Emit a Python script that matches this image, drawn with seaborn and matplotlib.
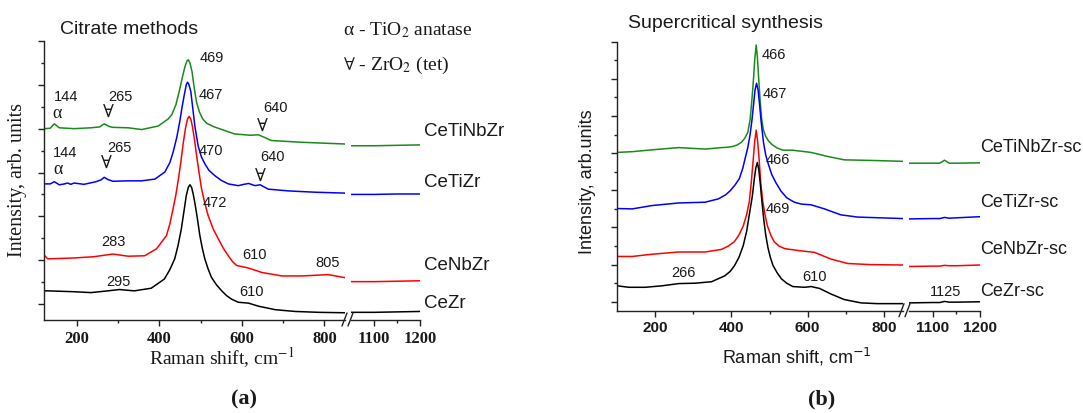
import matplotlib
matplotlib.use("Agg")
import matplotlib.pyplot as plt
import seaborn as sns
import pandas as pd
from matplotlib.lines import Line2D
from matplotlib.ticker import FixedLocator, MultipleLocator

# ---------------- data ----------------
names_a = ["CeTiNbZr", "CeTiZr", "CeNbZr", "CeZr"]
names_b = ["CeTiNbZr-sc", "CeTiZr-sc", "CeNbZr-sc", "CeZr-sc"]
colors = ["#1a8a1a", "#0000ff", "#ff0000", "#000000"]

# (a) Citrate methods
a_x_cetinbzr = [122, 135, 145, 157, 193, 234, 255, 266, 278, 287, 324, 357, 397, 421, 430, 440, 448, 455, 462, 467,
                470, 474, 479, 484, 490, 497, 505, 515, 533, 582, 620, 640, 655, 671, 744, 850,
                1050, 1100, 1150, 1200]
a_y_cetinbzr = [4.00, 4.01, 4.11, 4.02, 4.00, 4.02, 4.04, 4.11, 4.05, 4.03, 4.02, 3.98, 4.06, 4.22, 4.32, 4.55,
                4.85, 5.15, 5.42, 5.55, 5.57, 5.50, 5.30, 4.95, 4.60, 4.38, 4.22, 4.12, 4.04, 3.88, 3.85, 3.86,
                3.80, 3.73, 3.69, 3.65, 3.61, 3.61, 3.62, 3.63]

a_x_cetizr = [122, 135, 145, 157, 170, 177, 185, 193, 217, 246, 258, 266, 275, 287, 324, 357, 389, 413, 425, 433,
              442, 449, 455, 460, 465, 468, 471, 476, 481, 486, 494, 502, 510, 520, 534, 550, 567, 591, 605, 616,
              632, 644, 664, 713, 778, 850, 1050, 1100, 1150, 1200]
a_y_cetizr = [2.74, 2.74, 2.79, 2.72, 2.74, 2.76, 2.73, 2.76, 2.73, 2.79, 2.83, 2.89, 2.84, 2.80, 2.81, 2.81, 2.85,
              3.01, 3.22, 3.46, 3.80, 4.15, 4.50, 4.76, 5.00, 5.06, 5.02, 4.85, 4.45, 4.05, 3.60, 3.35, 3.20, 3.05,
              2.93, 2.82, 2.74, 2.70, 2.73, 2.75, 2.70, 2.72, 2.62, 2.58, 2.55, 2.53, 2.50, 2.50, 2.51, 2.51]

a_x_cenbzr = [122, 129, 193, 242, 287, 324, 364, 393, 417, 425, 433, 440, 446, 452, 458, 463, 468, 472, 476, 480,
              485, 490, 496, 502, 510, 518, 530, 543, 555, 567, 577, 587, 616, 648, 697, 745, 810, 850,
              1050, 1100, 1150, 1200]
a_y_cenbzr = [1.10, 1.03, 1.05, 1.08, 1.14, 1.09, 1.10, 1.26, 1.56, 1.82, 2.17, 2.50, 2.85, 3.25, 3.69, 4.00, 4.22,
              4.28, 4.22, 4.05, 3.75, 3.39, 3.00, 2.63, 2.30, 2.02, 1.72, 1.48, 1.27, 1.10, 0.97, 0.88, 0.82, 0.72,
              0.64, 0.64, 0.67, 0.60, 0.51, 0.51, 0.52, 0.53]

a_x_cezr = [122, 129, 193, 234, 275, 303, 339, 380, 412, 425, 437, 445, 453, 460, 465, 470, 474, 478, 482, 486,
            492, 498, 504, 510, 518, 526, 538, 551, 563, 575, 591, 616, 640, 681, 729, 786, 850,
            1050, 1100, 1150, 1200]
a_y_cezr = [0.30, 0.30, 0.28, 0.26, 0.30, 0.33, 0.30, 0.36, 0.57, 0.78, 1.03, 1.33, 1.71, 2.15, 2.47, 2.66, 2.72,
            2.66, 2.50, 2.30, 1.95, 1.56, 1.27, 1.03, 0.80, 0.61, 0.44, 0.30, 0.19, 0.11, 0.04, 0.02, -0.05, -0.13,
            -0.17, -0.19, -0.20, -0.19, -0.19, -0.18, -0.17]

# (b) Supercritical synthesis
b_x_cetinbzr = [100, 140, 192, 262, 331, 374, 390, 403, 415, 426, 435, 443, 449, 454, 458, 461, 465, 468, 471, 475,
                479, 484, 490, 498, 508, 520, 535, 560, 609, 653, 696, 783, 850,
                1050, 1100, 1115, 1125, 1135, 1150, 1200]
b_y_cetinbzr = [4.02, 4.04, 4.09, 4.15, 4.11, 4.15, 4.16, 4.18, 4.22, 4.29, 4.40, 4.56, 4.90, 5.46, 6.00, 6.50,
                6.91, 6.60, 6.10, 5.46, 4.95, 4.62, 4.45, 4.32, 4.22, 4.14, 4.08, 4.08, 4.02, 3.91, 3.82, 3.80,
                3.78, 3.73, 3.73, 3.73, 3.81, 3.73, 3.73, 3.74]

b_x_cetizr = [100, 140, 192, 262, 331, 366, 385, 397, 410, 421, 430, 437, 443, 449, 454, 458, 462, 466, 470, 474,
              478, 484, 490, 497, 506, 517, 530, 545, 565, 583, 609, 644, 687, 731, 850,
              1050, 1100, 1115, 1125, 1135, 1150, 1200]
b_y_cetizr = [2.51, 2.50, 2.59, 2.66, 2.68, 2.77, 2.88, 2.99, 3.15, 3.32, 3.60, 3.90, 4.15, 4.50, 4.90, 5.30, 5.70,
              5.88, 5.70, 5.30, 4.85, 4.30, 3.95, 3.70, 3.42, 3.20, 2.98, 2.80, 2.68, 2.63, 2.61, 2.50, 2.34, 2.28,
              2.24, 2.23, 2.24, 2.24, 2.27, 2.25, 2.26, 2.29]

b_x_cenbzr = [100, 140, 192, 262, 331, 374, 392, 408, 420, 431, 440, 447, 452, 457, 461, 465, 469, 473, 477, 482,
              488, 494, 503, 512, 525, 540, 583, 618, 661, 705, 766, 850,
              1050, 1100, 1115, 1125, 1135, 1150, 1200]
b_y_cenbzr = [1.22, 1.22, 1.28, 1.34, 1.34, 1.41, 1.50, 1.62, 1.80, 2.04, 2.35, 2.70, 3.20, 3.80, 4.30, 4.62, 4.30,
              3.80, 3.20, 2.72, 2.35, 2.06, 1.80, 1.62, 1.50, 1.43, 1.37, 1.33, 1.15, 1.03, 1.00, 0.99,
              0.95, 0.96, 0.96, 0.98, 0.97, 0.97, 0.99]

b_x_cezr = [100, 131, 174, 218, 262, 305, 348, 383, 397, 408, 420, 431, 440, 448, 455, 460, 464, 468, 472, 476,
            480, 485, 490, 496, 502, 509, 520, 531, 545, 561, 592, 609, 631, 661, 696, 740, 783, 850,
            1050, 1100, 1115, 1125, 1135, 1150, 1200]
b_y_cezr = [0.43, 0.39, 0.39, 0.43, 0.49, 0.50, 0.54, 0.70, 0.82, 0.97, 1.20, 1.51, 1.90, 2.41, 2.85, 3.30, 3.60,
            3.75, 3.55, 3.15, 2.70, 2.20, 1.80, 1.45, 1.20, 0.98, 0.78, 0.62, 0.50, 0.41, 0.39, 0.41, 0.36, 0.21,
            0.06, -0.03, -0.05, -0.05, -0.03, -0.02, -0.02, 0.01, -0.01, -0.01, 0.00]

x_major_low = [200, 400, 600, 800]
x_minor_low = [300, 500, 700]
x_major_high = [1100, 1200]
x_minor_high = [1150]
x_labels_low = ["200", "400", "600", "800"]
x_labels_high = ["1100", "1200"]

# ---------------- drawing ----------------
sns.set_style("ticks")
plt.rcParams['font.family'] = ['Liberation Sans', 'DejaVu Sans']
plt.rcParams['axes.linewidth'] = 1.0
plt.rcParams['axes.edgecolor'] = '#222222'

W, H = 1083, 414
fig = plt.figure(figsize=(W / 100, H / 100), dpi=100)


def rect(l, t, r, b):
    return [l / W, 1 - b / H, (r - l) / W, (b - t) / H]


def fx(p):
    return p / W


def fy(p):
    return 1 - p / H


SERIF = ['Liberation Serif', 'DejaVu Serif']
SANS = ['Liberation Sans', 'DejaVu Sans']
TXT = '#1a1a1a'

axa1 = fig.add_axes(rect(44, 42, 345, 321))
axa2 = fig.add_axes(rect(351, 42, 420, 321), sharey=axa1)
axb1 = fig.add_axes(rect(617, 42.7, 903, 311.7))
axb2 = fig.add_axes(rect(909, 42.7, 980, 311.7), sharey=axb1)


def plot_series(ax_lo, ax_hi, xs, ys, color):
    df = pd.DataFrame({"shift": xs, "I": ys})
    lo = df[df["shift"] <= 850]
    hi = df[df["shift"] >= 1050]
    sns.lineplot(data=lo, x="shift", y="I", ax=ax_lo, color=color, lw=1.1, estimator=None, sort=False)
    sns.lineplot(data=hi, x="shift", y="I", ax=ax_hi, color=color, lw=1.1, estimator=None, sort=False)


a_series = [(a_x_cetinbzr, a_y_cetinbzr), (a_x_cetizr, a_y_cetizr), (a_x_cenbzr, a_y_cenbzr), (a_x_cezr, a_y_cezr)]
b_series = [(b_x_cetinbzr, b_y_cetinbzr), (b_x_cetizr, b_y_cetizr), (b_x_cenbzr, b_y_cenbzr), (b_x_cezr, b_y_cezr)]
for (xs, ys), c in zip(a_series, colors):
    plot_series(axa1, axa2, xs, ys, c)
for (xs, ys), c in zip(b_series, colors):
    plot_series(axb1, axb2, xs, ys, c)


def style(ax_lo, ax_hi, xlim_lo, ylim, tick_font, tick_size, pad):
    ax_lo.set_xlim(*xlim_lo)
    ax_hi.set_xlim(1050, 1200)
    ax_lo.set_ylim(*ylim)
    for s in ['top', 'right']:
        ax_lo.spines[s].set_visible(False)
    for s in ['top', 'right', 'left']:
        ax_hi.spines[s].set_visible(False)
    ax_lo.set_xticks(x_major_low, labels=x_labels_low)
    ax_lo.xaxis.set_minor_locator(FixedLocator(x_minor_low))
    ax_hi.set_xticks(x_major_high, labels=x_labels_high)
    ax_hi.xaxis.set_minor_locator(FixedLocator(x_minor_high))
    ax_lo.yaxis.set_major_locator(MultipleLocator(1))
    ax_lo.yaxis.set_minor_locator(MultipleLocator(0.5))
    ax_lo.tick_params(axis='y', labelleft=False)
    for ax in (ax_lo, ax_hi):
        ax.tick_params(which='major', direction='out', length=4, width=1, pad=pad, color='#222222')
        ax.tick_params(which='minor', direction='out', length=2.2, width=1, color='#222222')
        for lab in ax.get_xticklabels():
            lab.set_fontfamily(tick_font)
            lab.set_fontweight('bold')
            lab.set_fontsize(tick_size)
            lab.set_color(TXT)
        ax.set_xlabel("")
        ax.set_ylabel("")
        ax.patch.set_alpha(0)
    ax_hi.tick_params(axis='y', which='both', left=False, labelleft=False)


style(axa1, axa2, (120, 850), (-0.365, 6.0), SERIF, 12, 3)
style(axb1, axb2, (100, 850), (-0.24, 7.0), SANS, 11, 2.5)


def brk(x0, yax):
    for dx in (0, 6):
        fig.add_artist(Line2D([fx(x0 + dx), fx(x0 + dx + 5)], [fy(yax + 6), fy(yax - 7)],
                              color='#222222', lw=1.0))


brk(342, 321)
brk(899, 311.7)

# ---- panel (a) texts ----
fig.text(fx(60), fy(29), "Citrate methods", fontsize=14, va='center', ha='left', family=SANS, color=TXT)
fig.text(fx(343), fy(30), r"α - TiO$_2$ anatase", fontsize=14, va='center', ha='left', family=SERIF,
         math_fontfamily='stix', color=TXT)
fig.text(fx(343), fy(65), r"$\forall$ - ZrO$_2$ (tet)", fontsize=14, va='center', ha='left', family=SERIF,
         math_fontfamily='stix', color=TXT)
fig.text(fx(18), fy(180), "Intensity, arb. units", rotation=90, fontsize=14.5, va='center', ha='center',
         family=SERIF, color=TXT)
fig.text(fx(222), fy(358), "Raman shift, cm$^{-1}$", fontsize=14, va='center', ha='center', family=SERIF,
         math_fontfamily='stix', color=TXT)
fig.text(fx(244), fy(399), "(a)", fontsize=16, fontweight='bold', va='center', ha='center', family=SERIF,
         color=TXT)
for name, py in zip(names_a, [131, 183, 266, 304]):
    fig.text(fx(424), fy(py), name, fontsize=13.5, va='center', ha='left', family=SANS, color=TXT)

num_a = [("469", 526.7, 5.64), ("467", 525.5, 4.79), ("144", 173.3, 4.75), ("265", 304.4, 4.75),
         ("640", 681.0, 4.50), ("144", 170.9, 3.47), ("265", 302.0, 3.58), ("470", 525.5, 3.52),
         ("640", 673.6, 3.38), ("472", 535.2, 2.33), ("283", 287.4, 1.44), ("610", 629.9, 1.14),
         ("805", 807.2, 0.96), ("295", 299.6, 0.525), ("610", 622.6, 0.30)]
for s, x, y in num_a:
    axa1.text(x, y, s, fontsize=10.5, ha='center', va='center', family=SANS, color=TXT, clip_on=False)
sym_a = [("α", 151.4, 4.38), ("∀", 275.3, 4.38), ("∀", 649.4, 4.06), ("α", 153.8, 3.08), ("∀", 270.4, 3.22),
         ("∀", 644.5, 2.92)]
for s, x, y in sym_a:
    axa1.text(x, y, s, fontsize=13, ha='center', va='center', family=SERIF, color=TXT, clip_on=False)

# ---- panel (b) texts ----
fig.text(fx(628), fy(23), "Supercritical synthesis", fontsize=14, va='center', ha='left', family=SANS, color=TXT)
fig.text(fx(587), fy(182), "Intensity, arb.units", rotation=90, fontsize=13, va='center', ha='center',
         family=SANS, color=TXT)
fig.text(fx(797), fy(357), "Raman shift, cm$^{-1}$", fontsize=13, va='center', ha='center', family=SANS,
         math_fontfamily='dejavusans', color=TXT)
fig.text(fx(822), fy(399), "(b)", fontsize=16, fontweight='bold', va='center', ha='center', family=SERIF,
         color=TXT)
for name, py in zip(names_b, [147, 203, 250, 291]):
    fig.text(fx(980), fy(py), name, fontsize=13, va='center', ha='left', family=SANS, color=TXT)

num_b = [("466", 512.5, 6.67), ("467", 515.0, 5.62), ("466", 523.0, 3.84), ("469", 523.0, 2.52),
         ("266", 275.5, 0.80), ("610", 619.0, 0.69)]
for s, x, y in num_b:
    axb1.text(x, y, s, fontsize=10.5, ha='center', va='center', family=SANS, color=TXT, clip_on=False)
axb2.text(1127.7, 0.29, "1125", fontsize=10.5, ha='center', va='center', family=SANS, color=TXT, clip_on=False)

fig.savefig("out.png", dpi=100)
